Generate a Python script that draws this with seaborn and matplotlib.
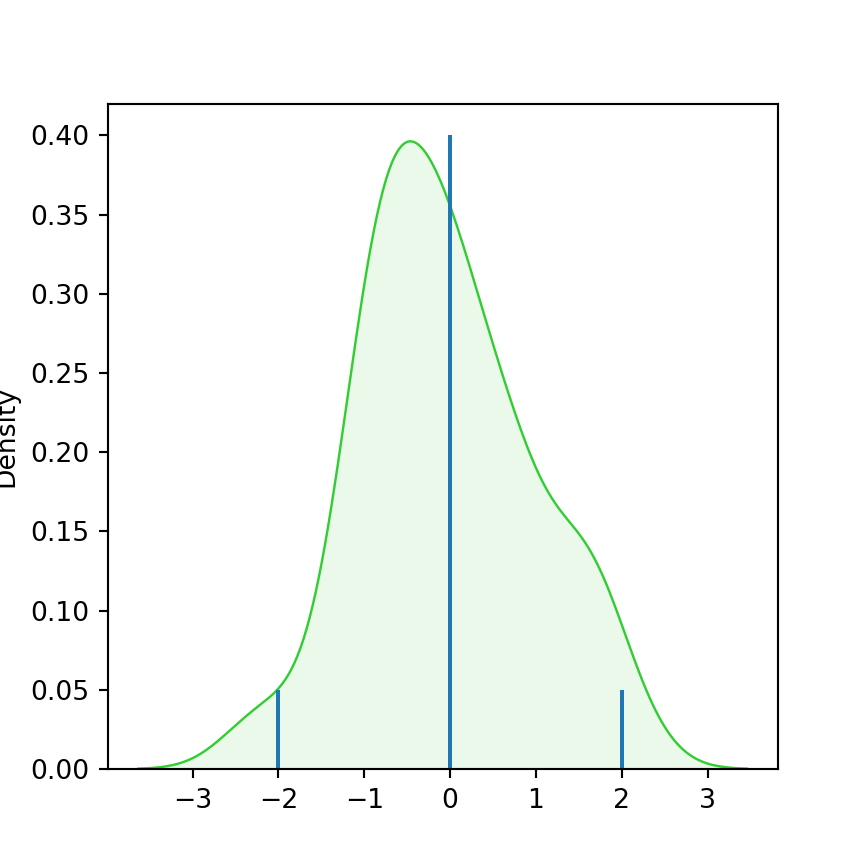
import matplotlib
matplotlib.use("Agg")
import matplotlib.pyplot as plt
import seaborn as sns

# sample values behind the density curve
sample = [-2.28, -2.03, -1.23, -1.17, -1.10, -1.03, -0.97, -0.91,
          -0.87, -0.82, -0.79, -0.76, -0.74, -0.71, -0.67, -0.64,
          -0.61, -0.59, -0.56, -0.52, -0.31, -0.26, -0.21,
          -0.17, -0.12, -0.09, -0.05, -0.01, 0.03, 0.08, 0.10, 0.13, 0.19,
          0.28, 0.43, 0.65, 0.72, 0.75, 0.77, 0.79, 0.81, 0.84,
          1.44, 1.55, 1.58, 1.61, 1.64, 1.67, 2.11]
# vertical marker lines
line_x = [-2, 0, 2]
line_h = [0.05, 0.40, 0.05]

fig, ax = plt.subplots(figsize=(4.5, 4.5), dpi=192)
# outline and light fill of the density
sns.kdeplot(x=sample, ax=ax, color="limegreen", linewidth=0.9)
sns.kdeplot(x=sample, ax=ax, color="limegreen", linewidth=0,
            fill=True, alpha=0.1)
ax.vlines(line_x, 0, line_h, color="tab:blue", linewidth=1.5)
ax.set_ylim(bottom=0)
fig.savefig("out.png", dpi=192)
